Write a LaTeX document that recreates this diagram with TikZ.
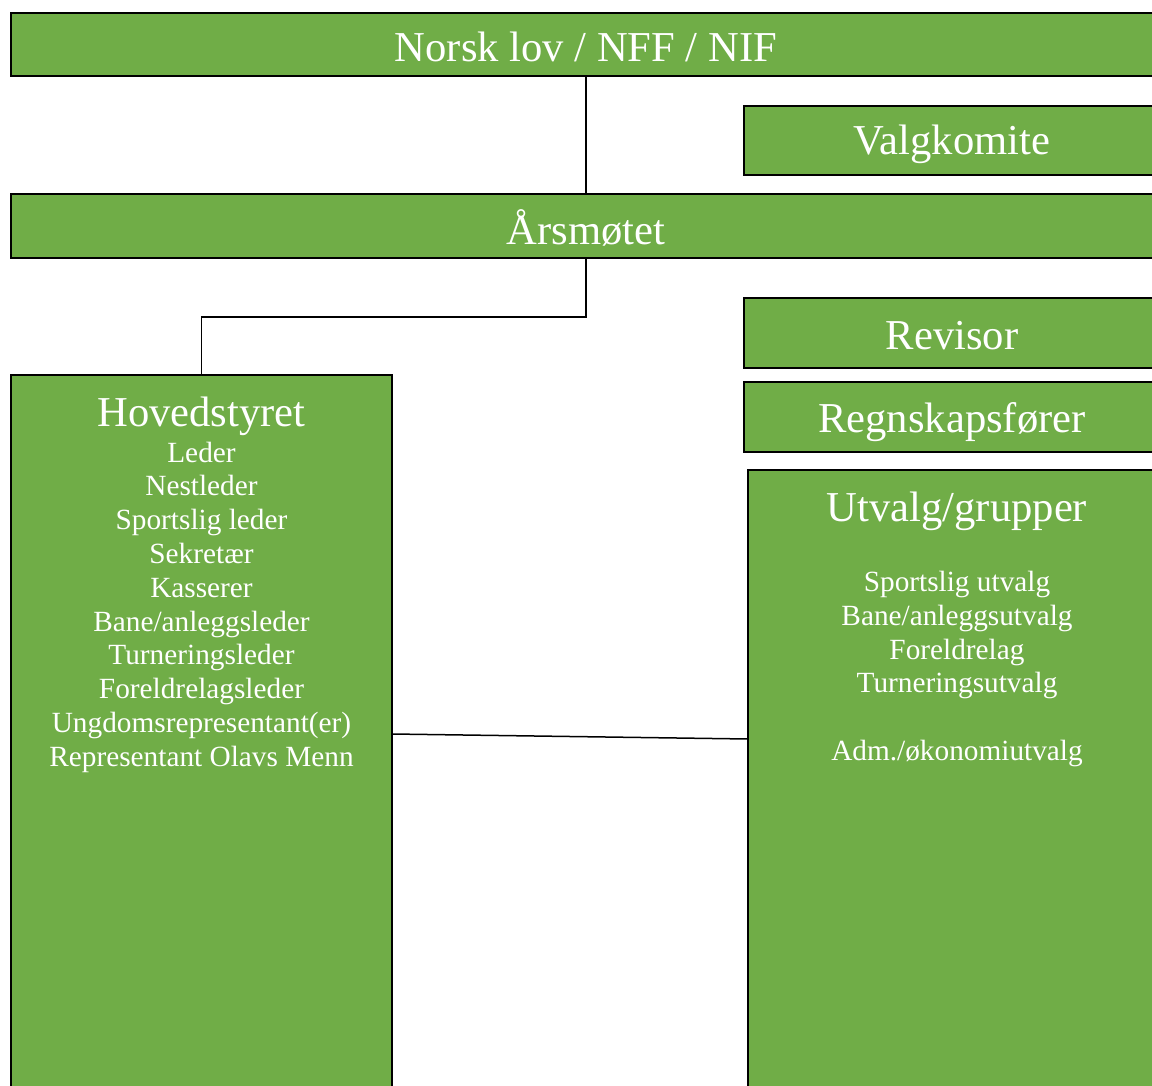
\documentclass[tikz,border=0pt]{standalone}
\usepackage{fontspec}
\setmainfont{Liberation Serif}
\definecolor{boxgreen}{HTML}{70AD47}
\begin{document}
\begin{tikzpicture}[x=1pt,y=-1pt,
  box/.style={draw=black, line width=1.5pt, fill=boxgreen, anchor=north west, inner sep=0pt, outer sep=0pt},
  big/.style={text=white, font=\fontsize{42.6}{49}\selectfont, anchor=base, inner sep=0pt},
  small/.style={text=white, font=\fontsize{29.3}{33.8}\selectfont, anchor=base, inner sep=0pt},
  conn/.style={draw=black, line width=1.5pt}]
\useasboundingbox (0,0) rectangle (1152,1086);
\clip (0,0) rectangle (1152,1086);
% boxes
\node[box, minimum width=1150pt, minimum height=63pt] (nff) at (11,13) {};
\node[box, minimum width=416pt, minimum height=69pt] (valg) at (744,106) {};
\node[box, minimum width=1150pt, minimum height=64pt] (ars) at (11,194) {};
\node[box, minimum width=416pt, minimum height=70pt] (rev) at (744,298) {};
\node[box, minimum width=416pt, minimum height=70pt] (reg) at (744,382) {};
\node[box, minimum width=381pt, minimum height=760pt] (hov) at (11,375) {};
\node[box, minimum width=418pt, minimum height=700pt] (utv) at (748,470) {};
% connectors
\draw[conn] (nff.south) -- (ars.north);
\draw[conn] (ars.south) -- ++(0,59) -| (hov.north);
\path (hov.north east) ++(0,359) coordinate (hc);
\path (utv.north west) ++(0,269) coordinate (uc);
\draw[conn] (hc) -- (uc);
% texts
\node[big] (nfft) at (586,62) {Norsk lov / NFF / NIF};
\node[big] (valgt) at (952,155) {Valgkomite};
\node[big] (arst) at (586,245) {Årsmøtet};
\node[big] (revt) at (952,349) {Revisor};
\node[big] (regt) at (952,432) {Regnskapsfører};
\node[big] (hovt) at (201.5,426) {Hovedstyret};
\foreach \t [count=\i from 0] in {Leder,Nestleder,Sportslig leder,Sekretær,Kasserer,Bane/anleggsleder,Turneringsleder,Foreldrelagsleder,Ungdomsrepresentant(er),Representant Olavs Menn}
  \node[small] (h\i) at (201.5,462+33.8*\i) {\t};
\node[big] (utvt) at (957,521) {Utvalg/grupper};
\node[small] (u1) at (957,591) {Sportslig utvalg};
\node[small] (u2) at (957,625) {Bane/anleggsutvalg};
\node[small] (u3) at (957,659) {Foreldrelag};
\node[small] (u4) at (957,692) {Turneringsutvalg};
\node[small] (u5) at (957,760) {Adm./økonomiutvalg};
\end{tikzpicture}
\end{document}
